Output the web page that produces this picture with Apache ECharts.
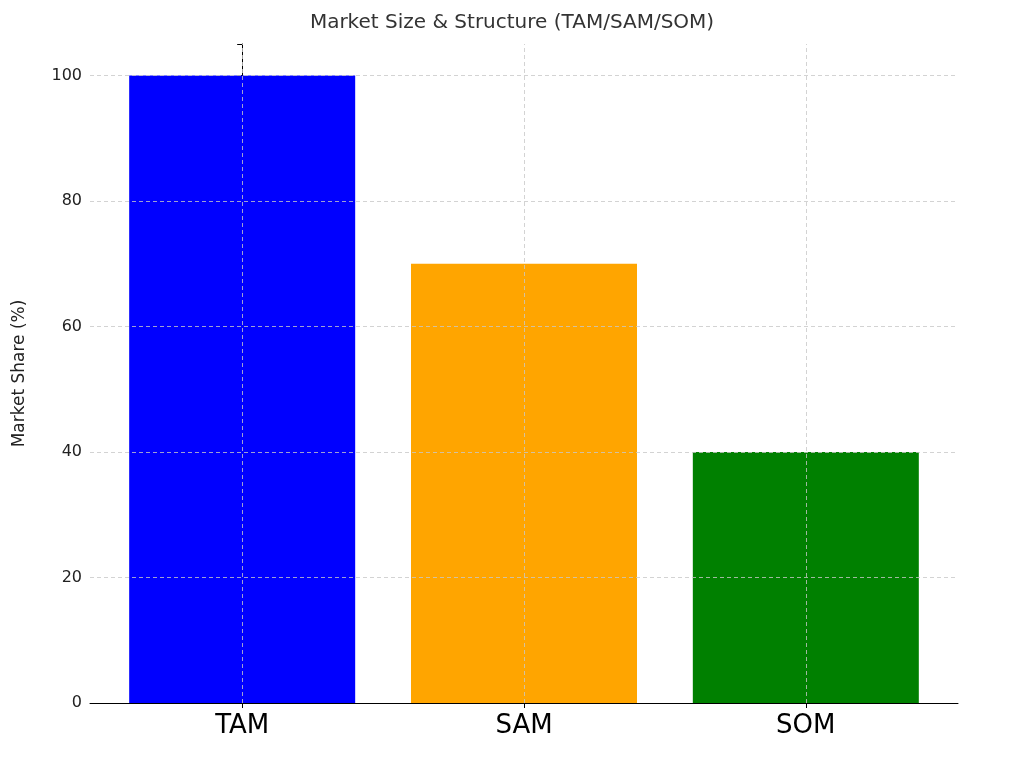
<!DOCTYPE html><html><head><meta charset="utf-8">
<script src="https://cdn.jsdelivr.net/npm/echarts@6/dist/echarts.min.js"></script>
<style>html,body{margin:0;background:#fff}#c{width:1024px;height:773px}</style></head><body><div id="c"></div>
<script>
const categories=['TAM','SAM','SOM'];
const values=[100,70,40];
const colors=['#0000ff','#ffa500','#008000'];
const yTicks=[0,20,40,60,80,100];
const chart=echarts.init(document.getElementById('c'));
const grid={lineStyle:{color:'#c8c8c8',type:[4,3],width:0.8},symbol:'none',label:{show:false},silent:true};
chart.setOption({
 animation:false,
 title:{text:'Market Size & Structure (TAM/SAM/SOM)',left:'center',top:8,textStyle:{fontFamily:'DejaVu Sans',fontSize:20,fontWeight:'normal',color:'#333'}},
 grid:{left:90,right:66,top:44,bottom:70},
 xAxis:{type:'value',min:-0.54,max:2.54,
  axisLine:{lineStyle:{color:'#000'}},splitLine:{show:false},
  axisTick:{customValues:[0,1,2],length:5,lineStyle:{color:'#000'}},
  axisLabel:{customValues:[0,1,2],formatter:v=>categories[Math.round(v)],fontFamily:'DejaVu Sans',fontSize:26,color:'#000',margin:10}},
 yAxis:{type:'value',min:0,max:105,interval:20,
  name:'Market Share (%)',nameLocation:'middle',nameGap:62,nameTextStyle:{fontFamily:'DejaVu Sans',fontSize:17,color:'#222'},
  axisLine:{show:true,lineStyle:{color:'#000'}},axisTick:{show:true,inside:false,length:5,lineStyle:{color:'#000'}},
  axisLabel:{fontFamily:'DejaVu Sans',fontSize:16,color:'#222',margin:8,formatter:v=>yTicks.includes(v)?String(v):''},
  splitLine:{show:false}},
 series:[{type:'bar',barWidth:226,data:values.map((v,i)=>({value:[i,v],itemStyle:{color:colors[i]}})),
  markLine:Object.assign({},grid,{z:10,data:[...yTicks.filter(t=>t>0).map(t=>({yAxis:t})),...categories.map((c,i)=>({xAxis:i}))]})}]
});
</script></body></html>
